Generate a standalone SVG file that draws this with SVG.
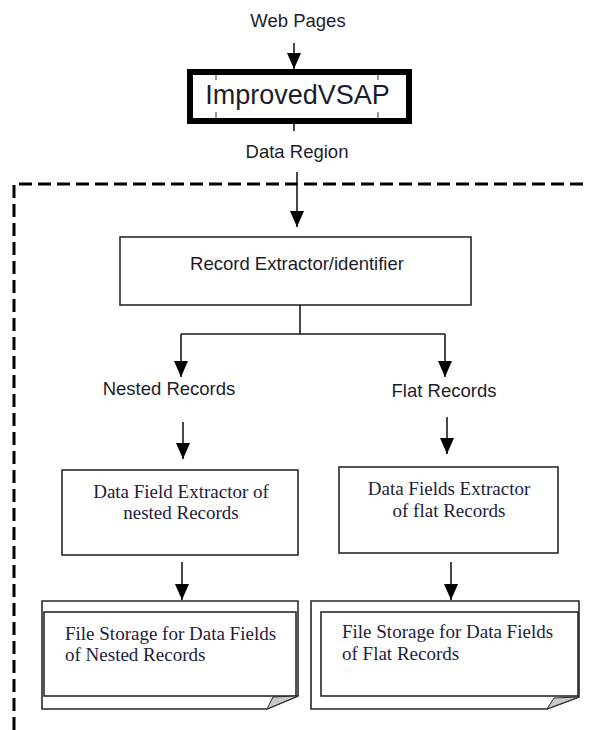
<svg xmlns="http://www.w3.org/2000/svg" width="589" height="730" viewBox="0 0 589 730">
<style>
.sans{font-family:"Liberation Sans",Arial,sans-serif;fill:#1c1c2c;}
.serif{font-family:"Liberation Serif","Times New Roman",serif;fill:#1c1c3c;font-size:19px;}
.box{fill:#fff;stroke:#2a2a2a;stroke-width:1.6;}
.ln{fill:none;stroke:#1a1a1a;stroke-width:1.6;}
</style>
<defs>
<marker id="ah" viewBox="0 0 16 14" refX="16" refY="7" markerWidth="16" markerHeight="14" markerUnits="userSpaceOnUse" orient="auto">
<path d="M0,0 L16,7 L0,14 z" fill="#000"/>
</marker>
</defs>
<rect width="589" height="730" fill="#fff"/>
<g id="boundary">
<path d="M14,730 V184 H589" fill="none" stroke="#000" stroke-width="3" stroke-dasharray="13 6"/>
</g>
<g id="web-pages">
<text class="sans" x="298" y="27" font-size="18.5" text-anchor="middle">Web Pages</text>
</g>
<g id="improvedvsap">
<rect x="190" y="72" width="219" height="49" fill="#fff" stroke="#000" stroke-width="6"/>
<path d="M216,75 V80 M378,75 V80 M216,112 V118 M378,112 V118" stroke="#333" stroke-width="1"/>
<text class="sans" x="297.5" y="104" font-size="27" text-anchor="middle">ImprovedVSAP</text>
</g>
<g id="data-region">
<text class="sans" x="297" y="158" font-size="18.5" text-anchor="middle">Data Region</text>
</g>
<g id="record-extractor">
<rect class="box" x="120" y="237" width="351" height="68"/>
<text class="sans" x="297" y="270" font-size="18.5" text-anchor="middle">Record Extractor/identifier</text>
</g>
<g id="nested-records">
<text class="sans" x="169" y="395" font-size="18.5" text-anchor="middle">Nested Records</text>
</g>
<g id="flat-records">
<text class="sans" x="444" y="397" font-size="18.5" text-anchor="middle">Flat Records</text>
</g>
<g id="nested-extractor">
<rect class="box" x="62" y="470" width="236" height="85"/>
<text class="serif" x="181" y="498" text-anchor="middle">Data Field Extractor of</text>
<text class="serif" x="181" y="519" text-anchor="middle">nested Records</text>
</g>
<g id="flat-extractor">
<rect class="box" x="339" y="467" width="219" height="86"/>
<text class="serif" x="449" y="495" text-anchor="middle">Data Fields Extractor</text>
<text class="serif" x="449" y="517" text-anchor="middle">of flat Records</text>
</g>
<g id="nested-storage">
<path d="M42,601 H298 V696 L267,709 H42 Z" fill="#fff" stroke="#2a2a2a" stroke-width="1.6"/>
<rect x="44" y="612" width="252" height="84" fill="none" stroke="#2a2a2a" stroke-width="1.6"/>
<path d="M267,709 L273,697 L298,696 Z" fill="#c8c8c8" stroke="#2a2a2a" stroke-width="1"/>
<text class="serif" x="65" y="640">File Storage for Data Fields</text>
<text class="serif" x="65" y="661">of Nested Records</text>
</g>
<g id="flat-storage">
<path d="M311,601 H579 V697 L547,709 H311 Z" fill="#fff" stroke="#2a2a2a" stroke-width="1.6"/>
<rect x="321" y="612" width="257" height="84" fill="none" stroke="#2a2a2a" stroke-width="1.6"/>
<path d="M547,709 L554,698 L579,697 Z" fill="#c8c8c8" stroke="#2a2a2a" stroke-width="1"/>
<text class="serif" x="342" y="638">File Storage for Data Fields</text>
<text class="serif" x="342" y="660">of Flat Records</text>
</g>
<g id="connectors">
<line class="ln" x1="294" y1="43" x2="294" y2="69" marker-end="url(#ah)"/>
<line class="ln" x1="294" y1="124" x2="294" y2="131"/>
<line class="ln" x1="297" y1="172" x2="297" y2="227" marker-end="url(#ah)"/>
<polyline class="ln" points="300,305 300,334"/>
<line class="ln" x1="181" y1="334" x2="445" y2="334"/>
<line class="ln" x1="181" y1="334" x2="181" y2="377" marker-end="url(#ah)"/>
<line class="ln" x1="445" y1="334" x2="445" y2="377" marker-end="url(#ah)"/>
<line class="ln" x1="183" y1="422" x2="183" y2="459" marker-end="url(#ah)"/>
<line class="ln" x1="447" y1="417" x2="447" y2="454" marker-end="url(#ah)"/>
<line class="ln" x1="182" y1="562" x2="182" y2="600" marker-end="url(#ah)"/>
<line class="ln" x1="451" y1="562" x2="451" y2="600" marker-end="url(#ah)"/>
</g>
</svg>
